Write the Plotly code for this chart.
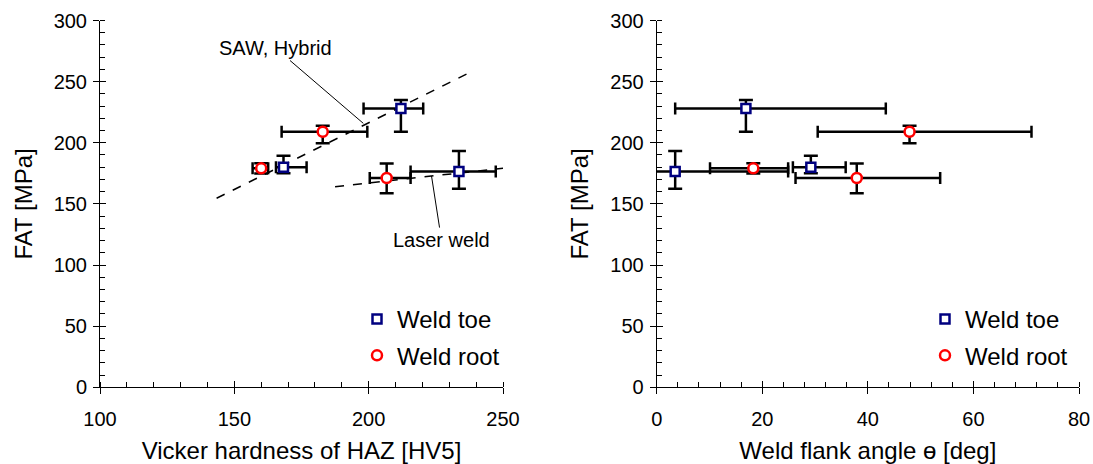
import plotly.graph_objects as go

# ---------------- data ----------------
fat_toe = [180, 228, 176.4]
fat_toe_plus = [9.3, 7, 16.9]
fat_toe_minus = [5, 19, 14]

fat_root = [179.1, 209, 171.2]
fat_root_plus = [4.2, 5, 11.8]
fat_root_minus = [4.2, 9.4, 12.5]

# Vicker hardness [HV5]
hv_toe = [168.3, 212.0, 233.6]
hv_toe_plus = [8.6, 8.3, 13.7]
hv_toe_minus = [2.8, 13.9, 18.0]

hv_root = [160.0, 182.9, 206.7]
hv_root_plus = [2.6, 16.6, 8.9]
hv_root_minus = [3.2, 15.3, 6.3]

# Weld flank angle [deg]
ang_toe = [29.2, 16.9, 3.5]
ang_toe_plus = [6.6, 26.5, 21.4]
ang_toe_minus = [3.4, 13.4, 4.3]

ang_root = [18.3, 47.9, 37.9]
ang_root_plus = [6.6, 23.1, 15.8]
ang_root_minus = [8.2, 17.4, 11.6]

# trend lines (left panel)
saw_x = [143.4, 237.5]
saw_y = [154.6, 257.3]
laser_x = [187.5, 257.5]
laser_y = [164.1, 181.0]

FONT = "Liberation Sans"
NAVY = "#000080"
RED = "#FF0000"

fig = go.Figure()

def err(arr_p, arr_m, w):
    return dict(type="data", symmetric=False, array=arr_p, arrayminus=arr_m,
                color="black", thickness=2.5, width=w)

# trend lines
fig.add_trace(go.Scatter(x=saw_x, y=saw_y, mode="lines", showlegend=False,
                         line=dict(color="black", width=1.5, dash="dash"),
                         xaxis="x", yaxis="y", hoverinfo="skip"))
fig.add_trace(go.Scatter(x=laser_x, y=laser_y, mode="lines", showlegend=False,
                         line=dict(color="black", width=1.5, dash="dash"),
                         xaxis="x", yaxis="y", hoverinfo="skip"))

# left panel points
fig.add_trace(go.Scatter(x=hv_toe, y=fat_toe, mode="markers", name="Weld toe",
                         legendgroup="a", legend="legend",
                         marker=dict(symbol="square", size=9, color="white",
                                     line=dict(color=NAVY, width=2.5)),
                         error_x=err(hv_toe_plus, hv_toe_minus, 6),
                         error_y=err(fat_toe_plus, fat_toe_minus, 7),
                         xaxis="x", yaxis="y"))
fig.add_trace(go.Scatter(x=hv_root, y=fat_root, mode="markers", name="Weld root",
                         legendgroup="b", legend="legend",
                         marker=dict(symbol="circle", size=10, color="white",
                                     line=dict(color=RED, width=2.5)),
                         error_x=err(hv_root_plus, hv_root_minus, 6),
                         error_y=err(fat_root_plus, fat_root_minus, 7),
                         xaxis="x", yaxis="y"))

# right panel points
fig.add_trace(go.Scatter(x=ang_toe, y=fat_toe, mode="markers", name="Weld toe",
                         legendgroup="c", legend="legend2",
                         marker=dict(symbol="square", size=9, color="white",
                                     line=dict(color=NAVY, width=2.5)),
                         error_x=err(ang_toe_plus, ang_toe_minus, 6),
                         error_y=err(fat_toe_plus, fat_toe_minus, 7),
                         xaxis="x2", yaxis="y2"))
fig.add_trace(go.Scatter(x=ang_root, y=fat_root, mode="markers", name="Weld root",
                         legendgroup="d", legend="legend2",
                         marker=dict(symbol="circle", size=10, color="white",
                                     line=dict(color=RED, width=2.5)),
                         error_x=err(ang_root_plus, ang_root_minus, 6),
                         error_y=err(fat_root_plus, fat_root_minus, 7),
                         xaxis="x2", yaxis="y2"))

# invisible traces for overlay tick axes (inward half of major ticks)
fig.add_trace(go.Scatter(x=[None], y=[None], xaxis="x3", yaxis="y3", showlegend=False))
fig.add_trace(go.Scatter(x=[None], y=[None], xaxis="x4", yaxis="y4", showlegend=False))

XD1 = [100 / 1093, 503 / 1093]
XD2 = [656.7 / 1093, 1079 / 1093]
YD = [1 - 387.3 / 464, 1 - 20.5 / 464]

tickfont = dict(family=FONT, size=20, color="black")
titlefont = dict(family=FONT, size=24, color="black")

def xax(domain, rng, dtick, minor_dtick, title, anchor):
    return dict(domain=domain, range=rng, anchor=anchor, dtick=dtick, tick0=rng[0],
                automargin=False,
                showgrid=False, zeroline=False, showline=True, linecolor="black",
                linewidth=1, ticks="outside", ticklen=6, tickwidth=1, tickcolor="black",
                minor=dict(dtick=minor_dtick, ticks="inside", ticklen=5, tickwidth=1,
                           tickcolor="black", showgrid=False),
                tickfont=tickfont, ticklabelstandoff=8,
                title=dict(text=title, font=titlefont, standoff=12))

def yax(domain, anchor):
    return dict(domain=domain, range=[0, 300], anchor=anchor, dtick=50, tick0=0,
                automargin=False,
                showgrid=False, zeroline=False, showline=True, linecolor="black",
                linewidth=1, ticks="outside", ticklen=6, tickwidth=1, tickcolor="black",
                minor=dict(dtick=10, ticks="inside", ticklen=5, tickwidth=1,
                           tickcolor="black", showgrid=False),
                tickfont=tickfont, ticklabelstandoff=2,
                title=dict(text="FAT [MPa]", font=titlefont, standoff=14))

def overlay_x(over, anchor, rng, dtick):
    return dict(overlaying=over, anchor=anchor, range=rng, dtick=dtick, tick0=rng[0],
                automargin=False,
                showgrid=False, zeroline=False, showline=False, ticks="inside",
                ticklen=6, tickwidth=1, tickcolor="black", showticklabels=False)

def overlay_y(over, anchor):
    return dict(overlaying=over, anchor=anchor, range=[0, 300], dtick=50, tick0=0,
                automargin=False,
                showgrid=False, zeroline=False, showline=False, ticks="inside",
                ticklen=6, tickwidth=1, tickcolor="black", showticklabels=False)

legfont = dict(family=FONT, size=24, color="black")

fig.update_layout(
    width=1093, height=464,
    margin=dict(l=0, r=0, t=0, b=0, autoexpand=False),
    paper_bgcolor="white", plot_bgcolor="white",
    font=dict(family=FONT, color="black"),
    xaxis=xax(XD1, [100, 250], 50, 10, "Vicker hardness of HAZ [HV5]", "y"),
    yaxis=yax(YD, "x"),
    xaxis2=xax(XD2, [0, 80], 20, 4, "Weld flank angle ɵ [deg]", "y2"),
    yaxis2=yax(YD, "x2"),
    xaxis3=overlay_x("x", "y3", [100, 250], 50),
    yaxis3=overlay_y("y", "x3"),
    xaxis4=overlay_x("x2", "y4", [0, 80], 20),
    yaxis4=overlay_y("y2", "x4"),
    legend=dict(x=357 / 1093, y=1 - 297 / 464, xanchor="left", yanchor="top",
                bgcolor="rgba(0,0,0,0)", font=legfont, tracegroupgap=2,
                itemsizing="trace"),
    legend2=dict(x=925 / 1093, y=1 - 297 / 464, xanchor="left", yanchor="top",
                 bgcolor="rgba(0,0,0,0)", font=legfont, tracegroupgap=2,
                 itemsizing="trace"),
    showlegend=True,
    annotations=[
        dict(text="SAW, Hybrid", x=198, y=215.9, xref="x", yref="y",
             ax=165.3, ay=277.5, axref="x", ayref="y", showarrow=True,
             arrowhead=0, arrowwidth=1, arrowcolor="black",
             font=dict(family=FONT, size=20, color="black")),
        dict(text="Laser weld", x=223.4, y=172.8, xref="x", yref="y",
             ax=227.1, ay=120.4, axref="x", ayref="y", showarrow=True,
             arrowhead=0, arrowwidth=1, arrowcolor="black",
             font=dict(family=FONT, size=20, color="black")),
    ],
)

fig.write_html("out.html")
